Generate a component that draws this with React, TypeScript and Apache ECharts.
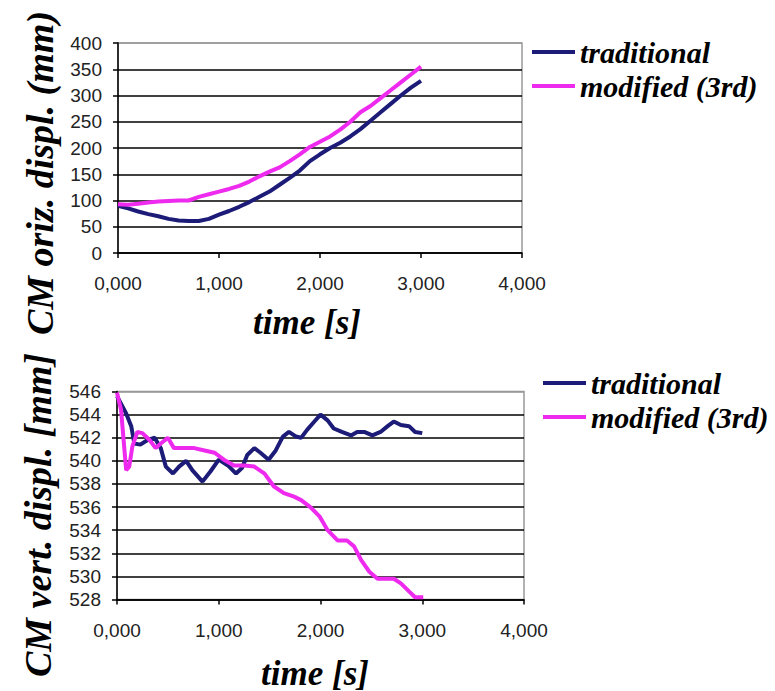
import React, { useEffect, useRef } from "react";
import * as echarts from "echarts";

// ---- Data (time in seconds) ----
const topTime = [0, 0.1, 0.2, 0.3, 0.4, 0.5, 0.6, 0.7, 0.8, 0.9, 1.0, 1.1, 1.2, 1.3, 1.4, 1.5, 1.6, 1.7, 1.8, 1.9, 2.0, 2.1, 2.2, 2.3, 2.4, 2.5, 2.6, 2.7, 2.8, 2.9, 3.0];
const topTraditional = [90, 85, 79, 74, 70, 65, 62, 61, 61, 65, 73, 80, 88, 97, 107, 117, 130, 143, 157, 175, 188, 200, 210, 222, 236, 252, 268, 284, 300, 315, 328];
const topModified = [93, 92, 94, 96, 98, 99, 100, 100, 107, 112, 117, 122, 128, 136, 146, 155, 163, 175, 188, 202, 212, 222, 235, 250, 268, 280, 295, 310, 325, 340, 355];

const bottomTraditionalTime = [0, 0.09, 0.14, 0.17, 0.23, 0.30, 0.37, 0.43, 0.48, 0.55, 0.61, 0.68, 0.74, 0.84, 0.92, 1.00, 1.09, 1.17, 1.23, 1.28, 1.35, 1.41, 1.49, 1.56, 1.63, 1.69, 1.76, 1.81, 1.87, 1.94, 2.00, 2.07, 2.13, 2.21, 2.30, 2.36, 2.43, 2.51, 2.59, 2.66, 2.72, 2.79, 2.87, 2.93, 3.00];
const bottomTraditional = [545.6, 544.1, 543, 541.5, 541.4, 541.8, 542, 541.1, 539.5, 538.9, 539.5, 540, 539.2, 538.2, 539.1, 540.1, 539.6, 538.9, 539.4, 540.5, 541.1, 540.7, 540.1, 540.9, 542.1, 542.5, 542.1, 542, 542.7, 543.4, 544, 543.5, 542.8, 542.5, 542.2, 542.5, 542.5, 542.2, 542.5, 543, 543.4, 543.1, 543, 542.5, 542.4];
const bottomModifiedTime = [0, 0.04, 0.09, 0.12, 0.15, 0.20, 0.25, 0.32, 0.38, 0.43, 0.50, 0.56, 0.66, 0.76, 0.86, 0.96, 1.05, 1.15, 1.25, 1.35, 1.45, 1.54, 1.64, 1.74, 1.81, 1.90, 1.99, 2.07, 2.17, 2.26, 2.33, 2.40, 2.48, 2.56, 2.64, 2.72, 2.79, 2.87, 2.93, 3.01];
const bottomModified = [545.9, 544.4, 539.2, 539.5, 541.2, 542.5, 542.4, 541.8, 541.1, 541.5, 542, 541.1, 541.1, 541.1, 540.9, 540.7, 540.1, 539.6, 539.6, 539.5, 538.9, 537.8, 537.2, 536.9, 536.6, 536, 535.2, 534, 533.1, 533.1, 532.6, 531.4, 530.4, 529.8, 529.8, 529.8, 529.4, 528.7, 528.2, 528.2];

const seriesNames = ["traditional", "modified (3rd)"];
const colors = ["#1c1c78", "#ee2aee"];

const pair = (t: number[], v: number[]) => t.map((x, i) => [x, v[i]]);

const serif = "Liberation Serif";
const sans = "Liberation Sans";

const xAxisBase = (gridIndex: number) => ({
  type: "value" as const,
  gridIndex,
  min: 0,
  max: 4,
  interval: 1,
  axisLine: { show: true, onZero: false, lineStyle: { color: "#000", width: 1.5 } },
  axisTick: { show: true, length: 5, lineStyle: { color: "#000", width: 1.5 } },
  axisLabel: {
    margin: 21,
    fontFamily: sans,
    fontSize: 19,
    color: "#222",
    formatter: (v: number) => v.toFixed(3).replace(".", ","),
  },
  splitLine: { show: false },
});

const yAxisBase = (gridIndex: number, min: number, max: number, interval: number) => {
  const n = Math.round((max - min) / interval) + 1;
  const lineColors = Array.from({ length: n }, (_, i) => (i === n - 1 ? "#999" : "#000"));
  return {
    type: "value" as const,
    gridIndex,
    min,
    max,
    interval,
    axisLine: { show: true, lineStyle: { color: "#000", width: 1.5 } },
    axisTick: { show: true, length: 5, lineStyle: { color: "#000", width: 1.5 } },
    axisLabel: { margin: 16, fontFamily: sans, fontSize: 19, color: "#222" },
    splitLine: { show: true, lineStyle: { color: lineColors, width: 1.5 } },
  };
};

const legendBase = (left: number, top: number) => ({
  orient: "vertical" as const,
  left,
  top,
  padding: 0,
  itemWidth: 43,
  itemHeight: 4,
  itemGap: 4,
  icon: "rect",
  data: seriesNames,
  textStyle: {
    fontFamily: serif,
    fontStyle: "italic",
    fontWeight: "bold",
    fontSize: 30,
    lineHeight: 30,
    color: "#000",
  },
});

export default function App() {
  const ref = useRef<HTMLDivElement>(null);
  useEffect(() => {
    if (!ref.current) return;
    const chart = echarts.init(ref.current, null, { renderer: "svg" });
    const lineSeries = (name: string, color: string, data: number[][], idx: number) => ({
      type: "line" as const,
      name,
      xAxisIndex: idx,
      yAxisIndex: idx,
      data,
      showSymbol: false,
      symbol: "none",
      smooth: false,
      color,
      lineStyle: { color, width: 4 },
    });
    const titleStyle = (text: string, size: number) => ({
      text,
      fontFamily: serif,
      fontStyle: "italic",
      fontWeight: "bold",
      fontSize: size,
      fill: "#000",
      align: "center",
      verticalAlign: "middle",
    });
    chart.setOption({
      animation: false,
      backgroundColor: "#fff",
      grid: [
        { left: 118, top: 43, width: 404, height: 210, show: true, borderColor: "#999", borderWidth: 1.5, containLabel: false },
        { left: 117, top: 391.5, width: 407, height: 208, show: true, borderColor: "#999", borderWidth: 1.5, containLabel: false },
      ],
      xAxis: [xAxisBase(0), xAxisBase(1)],
      yAxis: [yAxisBase(0, 0, 400, 50), yAxisBase(1, 528, 546, 2)],
      legend: [legendBase(532, 37), legendBase(543, 368)],
      series: [
        lineSeries(seriesNames[0], colors[0], pair(topTime, topTraditional), 0),
        lineSeries(seriesNames[1], colors[1], pair(topTime, topModified), 0),
        lineSeries(seriesNames[0], colors[0], pair(bottomTraditionalTime, bottomTraditional), 1),
        lineSeries(seriesNames[1], colors[1], pair(bottomModifiedTime, bottomModified), 1),
      ],
      graphic: [
        { type: "text", x: 307, y: 322, style: titleStyle("time [s]", 35) },
        { type: "text", x: 315, y: 673, style: titleStyle("time [s]", 35) },
        { type: "text", x: 40, y: 173, rotation: Math.PI / 2, style: titleStyle("CM oriz. displ. (mm)", 38) },
        { type: "text", x: 38, y: 515, rotation: Math.PI / 2, style: titleStyle("CM vert. displ. [mm]", 38) },
      ],
    });
    return () => chart.dispose();
  }, []);
  return (
    <div
      ref={ref}
      style={{ position: "fixed", left: 0, top: 0, width: 775, height: 691, background: "#fff" }}
    />
  );
}
